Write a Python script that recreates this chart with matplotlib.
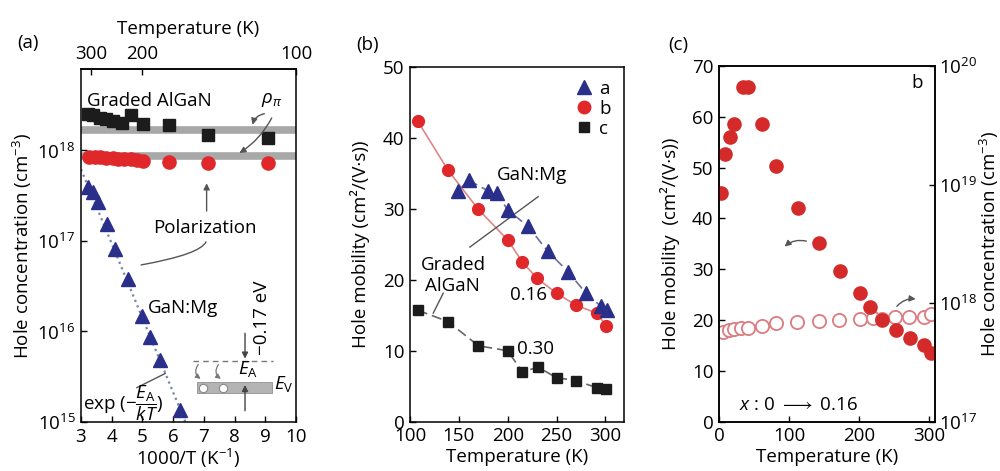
import matplotlib
matplotlib.use('Agg')
import matplotlib.pyplot as plt
import numpy as np
from matplotlib.lines import Line2D
from matplotlib.patches import Rectangle
from matplotlib.ticker import FixedLocator, FuncFormatter, NullLocator

plt.rcParams['font.family'] = ['Open Sans', 'DejaVu Sans']
plt.rcParams['mathtext.fontset'] = 'custom'
plt.rcParams['mathtext.rm'] = 'Open Sans'
plt.rcParams['mathtext.it'] = 'Open Sans:italic'
plt.rcParams['mathtext.bf'] = 'Open Sans:bold'
plt.rcParams['font.size'] = 13.5
plt.rcParams['axes.linewidth'] = 1.1
plt.rcParams['xtick.direction'] = 'in'
plt.rcParams['ytick.direction'] = 'in'
plt.rcParams['xtick.major.size'] = 4
plt.rcParams['ytick.major.size'] = 4
plt.rcParams['xtick.major.width'] = 1.0
plt.rcParams['ytick.major.width'] = 1.0

# ---------------- data: panel (a) ----------------
a_sq_x = [3.24, 3.40, 3.62, 3.81, 4.05, 4.32, 4.63, 5.01, 5.88, 7.15, 9.10]
a_sq_y = [2.54e18, 2.44e18, 2.30e18, 2.20e18, 2.11e18, 2.0e18, 2.44e18, 1.97e18,
          1.89e18, 1.49e18, 1.38e18]
a_ci_x = [3.27, 3.46, 3.62, 3.81, 4.03, 4.21, 4.41, 4.63, 4.81, 5.01, 5.88, 7.15, 9.10]
a_ci_y = [8.5e17, 8.4e17, 8.4e17, 8.3e17, 8.3e17, 8.1e17, 8.1e17, 8.0e17, 7.9e17,
          7.6e17, 7.4e17, 7.3e17, 7.3e17]
a_tri_x = [3.24, 3.40, 3.56, 3.84, 4.11, 4.54, 5.00, 5.25, 5.57, 6.22]
a_tri_y = [3.9e17, 3.5e17, 2.7e17, 1.55e17, 8.2e16, 3.8e16, 1.5e16, 8.7e15, 4.8e15, 1.35e15]
a_fit_x = [3.0, 6.4]
a_fit_y = [6.2e17, 1.0e15]
a_band_y = [1.7e18, 8.6e17]
a_top_ticks = [300, 200, 100]

# ---------------- data: panel (b) ----------------
b_T_a = [149, 160, 180, 189, 200, 221, 241, 262, 280, 295, 302]
b_mu_a = [32.5, 34.0, 32.5, 32.2, 29.8, 27.5, 24.0, 21.1, 18.1, 16.3, 15.7]
b_T_b = [108, 139, 170, 200, 215, 230, 250, 270, 291, 301]
b_mu_b = [42.3, 35.4, 29.9, 25.6, 22.5, 20.2, 18.1, 16.4, 15.3, 13.5]
b_T_c = [108, 139, 170, 200, 215, 231, 250, 270, 291, 301]
b_mu_c = [15.7, 14.1, 10.7, 10.0, 7.0, 7.7, 6.2, 5.8, 4.8, 4.6]
b_labels = ['a', 'b', 'c']

# ---------------- data: panel (c) ----------------
c_T_mu = [2.5, 8, 16, 22, 34, 42, 61, 81, 112, 142, 172, 201, 216, 232, 252, 272, 292, 302]
c_mu = [45.0, 52.6, 56.1, 58.5, 65.8, 65.8, 58.5, 50.4, 42.1, 35.2, 29.7, 25.4, 22.5,
        20.0, 18.0, 16.4, 15.2, 13.5]
c_T_p = [5.5, 14.9, 22, 31.5, 41, 62, 81, 111, 142, 171, 201, 219, 233, 251, 271, 292, 303]
c_p = [5.74e17, 5.93e17, 6.05e17, 6.14e17, 6.14e17, 6.44e17, 6.76e17, 6.89e17, 7.06e17,
       7.21e17, 7.29e17, 7.53e17, 7.29e17, 7.67e17, 7.67e17, 7.67e17, 8.05e17]

BLUE = '#2a2f8a'
RED = '#e0282b'
BLACK = '#1c1c1c'
GRAY = '#555555'

pow_fmt = FuncFormatter(lambda v, p: r'$10^{%d}$' % int(round(np.log10(v))))

fig = plt.figure(figsize=(10, 4.71), dpi=100)

# ================= panel (a) =================
axA = fig.add_axes([0.081, 0.104, 0.215, 0.7495])
axA.set_yscale('log')
axA.set_xlim(3, 10)
axA.set_ylim(1e15, 10 ** 18.9)
axA.set_xticks(range(3, 11))
axA.yaxis.set_major_locator(FixedLocator([1e15, 1e16, 1e17, 1e18]))
axA.yaxis.set_major_formatter(pow_fmt)
axA.yaxis.set_minor_locator(NullLocator())
axA.tick_params(axis='x', pad=4)
axA.tick_params(axis='y', pad=4)

for lvl in a_band_y:
    axA.axhline(lvl, color='#a8a8a8', lw=5.5, zorder=1)
axA.plot(a_fit_x, a_fit_y, ls=':', color='#7a86a8', lw=1.6, zorder=2)
axA.plot(a_sq_x, a_sq_y, 's', ms=8, color=BLACK, zorder=3)
axA.plot(a_ci_x, a_ci_y, 'o', ms=9.5, color=RED, zorder=3)
axA.plot(a_tri_x, a_tri_y, '^', ms=9.5, color=BLUE, zorder=3)


def inv(x):
    x = np.asarray(x, dtype=float)
    with np.errstate(divide='ignore'):
        return 1000.0 / x


sec = axA.secondary_xaxis('top', functions=(inv, inv))
sec.set_xticks(a_top_ticks)
sec.set_xticklabels([str(t) for t in a_top_ticks])
sec.xaxis.set_minor_locator(NullLocator())
sec.tick_params(axis='x', direction='in', pad=4)
sec.set_xlabel('Temperature (K)', labelpad=8)

axA.set_xlabel(r'1000/T (K$^{-1}$)')
axA.xaxis.set_label_coords(0.5, -0.102)
axA.xaxis.label.set_va('center')
axA.set_ylabel(r'Hole concentration (cm$^{-3}$)')
axA.yaxis.set_label_coords(-0.274, 0.5)
axA.yaxis.label.set_va('center')

# annotations (a)
axA.text(3.2, 10 ** 18.552, 'Graded AlGaN', ha='left', va='center')
axA.text(9.22, 10 ** 18.56, r'$\rho_\pi$', ha='center', va='center')
axA.annotate('', xy=(8.57, 10 ** 18.254), xytext=(9.06, 10 ** 18.41),
             arrowprops=dict(arrowstyle='-|>', color=GRAY, lw=1.0, mutation_scale=9,
                             connectionstyle='arc3,rad=0.4'))
axA.annotate('', xy=(8.08, 10 ** 17.956), xytext=(9.25, 10 ** 18.387),
             arrowprops=dict(arrowstyle='-|>', color=GRAY, lw=1.0, mutation_scale=9,
                             connectionstyle='arc3,rad=-0.15'))
axA.text(7.04, 10 ** 17.138, 'Polarization', ha='center', va='center')
axA.annotate('', xy=(7.09, 10 ** 17.668), xytext=(7.09, 10 ** 17.30),
             arrowprops=dict(arrowstyle='-|>', color=GRAY, lw=1.0, mutation_scale=9))
axA.annotate('', xy=(4.87, 10 ** 16.73), xytext=(7.09, 10 ** 17.02),
             arrowprops=dict(arrowstyle='-', color=GRAY, lw=1.0,
                             connectionstyle='angle3,angleA=90,angleB=10'))
axA.text(5.18, 10 ** 16.265, 'GaN:Mg', ha='left', va='center')

# band diagram inset
y_lo, y_hi = 10 ** 15.326, 10 ** 15.437
axA.add_patch(Rectangle((6.78, y_lo), 2.44, y_hi - y_lo, facecolor='#b4b4b4',
                        edgecolor='#909090', lw=0.6, zorder=2))
axA.plot([6.97, 7.62], [10 ** 15.38, 10 ** 15.38], 'o', ms=6, mfc='white', mec='#888888',
         mew=0.8, zorder=3)
axA.plot([6.65, 9.25], [10 ** 15.669, 10 ** 15.669], ls=(0, (4, 3)), color='#777777', lw=1.0)
for xs in (6.87, 7.53):
    axA.annotate('', xy=(xs + 0.1, 10 ** 15.46), xytext=(xs, 10 ** 15.66),
                 arrowprops=dict(arrowstyle='-|>', color='#777777', lw=0.9, mutation_scale=7,
                                 connectionstyle='arc3,rad=0.6'))
axA.text(8.45, 10 ** 15.59, r'$E_\mathrm{A}$', ha='center', va='center')
axA.text(9.3, 10 ** 15.425, r'$E_\mathrm{V}$', ha='left', va='center')
axA.annotate('', xy=(8.34, 10 ** 15.669), xytext=(8.34, 10 ** 16.011),
             arrowprops=dict(arrowstyle='-|>', color='#444444', lw=1.0, mutation_scale=9))
axA.annotate('', xy=(8.34, 10 ** 15.44), xytext=(8.34, 10 ** 15.094),
             arrowprops=dict(arrowstyle='-|>', color='#444444', lw=1.0, mutation_scale=9))
axA.text(8.89, 10 ** 16.149, '\u22120.17 eV', rotation=90, ha='center', va='center')
axA.text(3.07, 10 ** 15.204, r'exp $(-\dfrac{E_\mathrm{A}}{kT})$', ha='left', va='center')
axA.plot([4.82, 5.74], [10 ** 15.38, 10 ** 15.536], color=GRAY, lw=1.0)

# ================= panel (b) =================
axB = fig.add_axes([0.410, 0.1045, 0.214, 0.754])
axB.set_xlim(100, 319)
axB.set_ylim(0, 50)
axB.set_xticks(range(100, 301, 50))
axB.set_yticks(range(0, 51, 10))
axB.tick_params(axis='both', pad=4)
axB.plot(b_T_b, b_mu_b, '-', color='#e08585', lw=1.2, zorder=2)
axB.plot(b_T_a, b_mu_a, ls=(0, (6, 3)), color='#6a6f9a', lw=1.2, zorder=2)
axB.plot(b_T_c, b_mu_c, ls=(0, (6, 3)), color='#666666', lw=1.2, zorder=2)
axB.plot(b_T_b, b_mu_b, 'o', ms=8.5, color=RED, zorder=3)
axB.plot(b_T_a, b_mu_a, '^', ms=9.5, color=BLUE, zorder=3)
axB.plot(b_T_c, b_mu_c, 's', ms=7.5, color=BLACK, zorder=3)
handles = [Line2D([], [], marker='^', ls='none', color=BLUE, ms=9.5),
           Line2D([], [], marker='o', ls='none', color=RED, ms=9),
           Line2D([], [], marker='s', ls='none', color=BLACK, ms=7.5)]
axB.legend(handles, b_labels, loc='upper right', frameon=False, handletextpad=0.2,
           labelspacing=0.1, borderaxespad=0.3, handlelength=1.2)
axB.set_xlabel('Temperature (K)')
axB.xaxis.set_label_coords(0.5, -0.0995)
axB.xaxis.label.set_va('center')
axB.set_ylabel('Hole mobility (cm\u00b2/(V\u00b7s))')
axB.yaxis.set_label_coords(-0.234, 0.5)
axB.yaxis.label.set_va('center')

axB.text(188.9, 34.7, 'GaN:Mg', ha='left', va='center')
axB.plot([231.2, 161.3], [31.7, 24.6], color=GRAY, lw=1.0)
axB.text(143.9, 20.6, 'Graded\nAlGaN', ha='center', va='center', linespacing=1.2)
axB.plot([134.0, 123.8], [18.1, 15.3], color=GRAY, lw=1.0)
axB.text(202.2, 17.8, '0.16', ha='left', va='center')
axB.text(209.0, 10.2, '0.30', ha='left', va='center')

# ================= panel (c) =================
axC = fig.add_axes([0.719, 0.1045, 0.216, 0.7555])
axC2 = axC.twinx()
axC.set_zorder(2)
axC.patch.set_visible(False)
axC.set_xlim(0, 308)
axC.set_ylim(0, 70)
axC.set_xticks([0, 100, 200, 300])
axC.set_yticks(range(0, 71, 10))
axC.tick_params(axis='both', pad=4)
axC2.set_yscale('log')
axC2.set_ylim(1e17, 1e20)
axC2.yaxis.set_major_locator(FixedLocator([1e17, 1e18, 1e19, 1e20]))
axC2.yaxis.set_major_formatter(pow_fmt)
axC2.yaxis.set_minor_locator(NullLocator())
axC2.tick_params(axis='y', direction='in', pad=3)

axC2.plot(c_T_p, c_p, 'o', ms=9.5, mfc='white', mec='#dc7c80', mew=1.3)
axC.plot(c_T_mu, c_mu, 'o', ms=9.5, color='#d42a2a')

axC.set_xlabel('Temperature (K)')
axC.xaxis.set_label_coords(0.5, -0.0995)
axC.xaxis.label.set_va('center')
axC.set_ylabel('Hole mobility  (cm\u00b2/(V\u00b7s))')
axC.yaxis.set_label_coords(-0.227, 0.5)
axC.yaxis.label.set_va('center')
axC2.set_ylabel(r'Hole concentration (cm$^{-3}$)')
axC2.yaxis.set_label_coords(1.252, 0.5)
axC2.yaxis.label.set_va('center')

axC.text(282.6, 66.6, 'b', ha='center', va='center')
axC.annotate('', xy=(90.6, 34.1), xytext=(128.4, 35.4),
             arrowprops=dict(arrowstyle='-|>', color=GRAY, lw=1.0, mutation_scale=9,
                             connectionstyle='arc3,rad=0.3'))
axC.annotate('', xy=(284.4, 24.1), xytext=(251.0, 22.3),
             arrowprops=dict(arrowstyle='-|>', color=GRAY, lw=1.0, mutation_scale=9,
                             connectionstyle='arc3,rad=-0.3'))
axC.text(29, 3.3, r'$x$ : 0 $\longrightarrow$ 0.16', ha='left', va='center')

# panel labels
fig.text(0.0285, 0.908, '(a)', ha='center', va='center')
fig.text(0.368, 0.905, '(b)', ha='center', va='center')
fig.text(0.678, 0.905, '(c)', ha='center', va='center')

fig.savefig('out.png', dpi=100)
